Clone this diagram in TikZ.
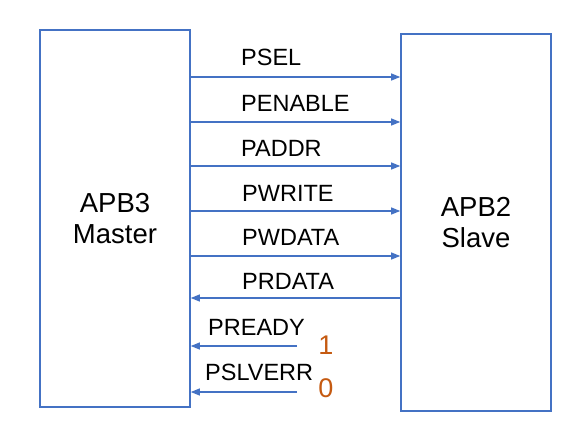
\documentclass[tikz,border=0pt]{standalone}
\usepackage{fontspec}
\setmainfont{Liberation Sans}
\usetikzlibrary{arrows.meta}
\definecolor{lineblue}{HTML}{4472C4}
\definecolor{valorange}{HTML}{C55A11}
\begin{document}
\begin{tikzpicture}[x=1pt,y=-1pt,
  box/.style={draw=lineblue,line width=1.6pt,minimum width=150pt,minimum height=377pt,inner sep=0pt,align=center,font=\fontsize{27.5}{31}\selectfont},
  sig/.style={draw=lineblue,line width=1.2pt,-{Triangle[length=9pt,width=7pt]}},
  lbl/.style={anchor=base west,inner sep=0pt,font=\fontsize{23.5}{27}\selectfont},
  val/.style={anchor=base,inner sep=0pt,text=valorange,font=\fontsize{27}{30}\selectfont}]
\useasboundingbox (0,0) rectangle (586,444);
\node[box] (master) at (115,218.5) {APB3\\Master};
\node[box] (slave) at (476,222.5) {APB2\\Slave};
% forward signals
\draw[sig] (master.east |- 0,77) -- (slave.west |- 0,77);
\draw[sig] (master.east |- 0,122) -- (slave.west |- 0,122);
\draw[sig] (master.east |- 0,166) -- (slave.west |- 0,166);
\draw[sig] (master.east |- 0,211) -- (slave.west |- 0,211);
\draw[sig] (master.east |- 0,256) -- (slave.west |- 0,256);
\draw[sig] (slave.west |- 0,298) -- (master.east |- 0,298);
\coordinate (rdy) at (297,346);
\coordinate (err) at (297,392);
\draw[sig] (rdy) -- (master.east |- rdy);
\draw[sig] (err) -- (master.east |- err);
% labels
\node[lbl] (lsel) at (241,66) {PSEL};
\node[lbl] (len) at (241,111) {PENABLE};
\node[lbl] (ladd) at (241,156) {PADDR};
\node[lbl] (lwr) at (242,201) {PWRITE};
\node[lbl] (lwd) at (242,245) {PWDATA};
\node[lbl] (lrd) at (242,289) {PRDATA};
\node[lbl] (lrdy) at (208,335) {PREADY};
\node[lbl] (lerr) at (205,380) {PSLVERR};
\node[val] (v1) at (326,354) {1};
\node[val] (v0) at (326,397) {0};
\end{tikzpicture}
\end{document}
